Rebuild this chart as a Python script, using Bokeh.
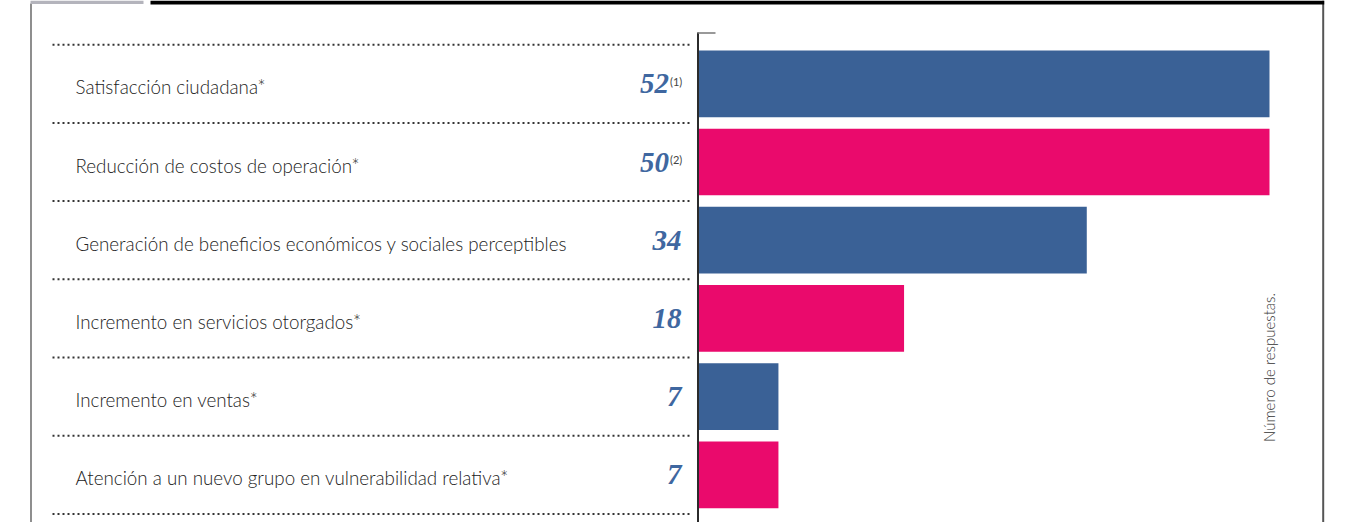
from math import pi
from bokeh.plotting import figure
from bokeh.models import ColumnDataSource, Range1d
from bokeh.core.properties import value
from bokeh.embed import file_html
from bokeh.resources import INLINE

# ---------------- data ----------------
categories = [
    "Satisfacción ciudadana*",
    "Reducción de costos de operación*",
    "Generación de beneficios económicos y sociales perceptibles",
    "Incremento en servicios otorgados*",
    "Incremento en ventas*",
    "Atención a un nuevo grupo en vulnerabilidad relativa*",
]
values = [52, 50, 34, 18, 7, 7]
notes = ["(1)", "(2)", "", "", "", ""]
bar_colors = ["#3A6196", "#EA0A6C", "#3A6196", "#EA0A6C", "#3A6196", "#EA0A6C"]
axis_title = "Número de respuestas."
x_max = 50          # bars are cut at the axis maximum, as in the original

# ---------------- layout helpers (page pixels) ----------------
W, H = 1349, 522
X0 = 698                                  # page x of the value 0
PX = 571 / x_max                          # pixels per unit
ROW0, ROWH = 83.3, 78.2                   # y of first row centre, row pitch
LABEL_FONT = "Lato Light, Lato"


def dx(sx):
    return (sx - X0) / PX


def dy(sy):
    return (sy - ROW0) / ROWH


NOTE_W = 12.5
rows = list(range(len(categories)))
src = ColumnDataSource(dict(
    row=rows,
    cat=categories,
    bar_end=[min(v, x_max) for v in values],
    vtxt=[str(v) for v in values],
    vx=[dx(681 - (NOTE_W if n else 0)) for n in notes],
    note=notes,
    color=bar_colors,
))

p = figure(width=W, height=H,
           x_range=Range1d(dx(0), dx(W)), y_range=Range1d(dy(H), dy(0)),
           output_backend="svg", toolbar_location=None,
           min_border_left=0, min_border_right=0,
           min_border_top=0, min_border_bottom=0,
           x_axis_location=None, y_axis_location=None)
p.outline_line_color = None
p.xgrid.visible = False
p.ygrid.visible = False
p.background_fill_color = "white"
p.border_fill_color = "white"

p.hbar(y="row", left=0, right="bar_end", height=0.853, fill_color="color",
       line_color=None, source=src)

# dotted separators
seps = [i - 0.5 for i in range(len(categories) + 1)]
p.segment(x0=[dx(52)] * len(seps), x1=[dx(692)] * len(seps), y0=seps, y1=seps,
          line_color="#333333", line_width=2, line_dash="2 3")


def rule(x0, y0, x1, y1, color, width):
    p.segment(x0=[x0], y0=[y0], x1=[x1], y1=[y1],
              line_color=color, line_width=width)


# value axis line with a small top tick
rule(dx(697.5), dy(32), dx(697.5), dy(540), "#2b2b2b", 2)
rule(dx(697), dy(32.5), dx(715), dy(32.5), "#777777", 1.5)

# frame: borders, top bar and tab
rule(dx(30.5), dy(3), dx(30.5), dy(540), "#444444", 1.2)
rule(dx(1322.7), dy(0), dx(1322.7), dy(540), "#555555", 2)
rule(dx(150), dy(2), dx(1323.7), dy(2), "#000000", 4)
rule(dx(30), dy(1.7), dx(143), dy(1.7), "#b4b4bc", 3.5)

# category labels
p.text(x=dx(75), y="row", text="cat", source=src, y_offset=3,
       text_font=value(LABEL_FONT), text_font_size="18.8px",
       text_color="#222222", text_align="left", text_baseline="middle")

# value labels
p.text(x="vx", y="row", text="vtxt", source=src,
       text_font=value("Liberation Serif"), text_font_style="bold italic",
       text_font_size="29px", text_color="#3F67A0",
       text_align="right", text_baseline="middle")
p.text(x=dx(669.5), y="row", text="note", source=src, y_offset=-2.5,
       text_font=value("Lato"), text_font_size="11px", text_color="#444444",
       text_align="left", text_baseline="middle")

# rotated axis title
p.text(x=[dx(1268)], y=[dy(367)], text=[axis_title], angle=pi / 2,
       text_font=value(LABEL_FONT), text_font_size="15px", text_color="#333333",
       text_align="center", text_baseline="middle")

open("out.html", "w").write(file_html(p, INLINE))
